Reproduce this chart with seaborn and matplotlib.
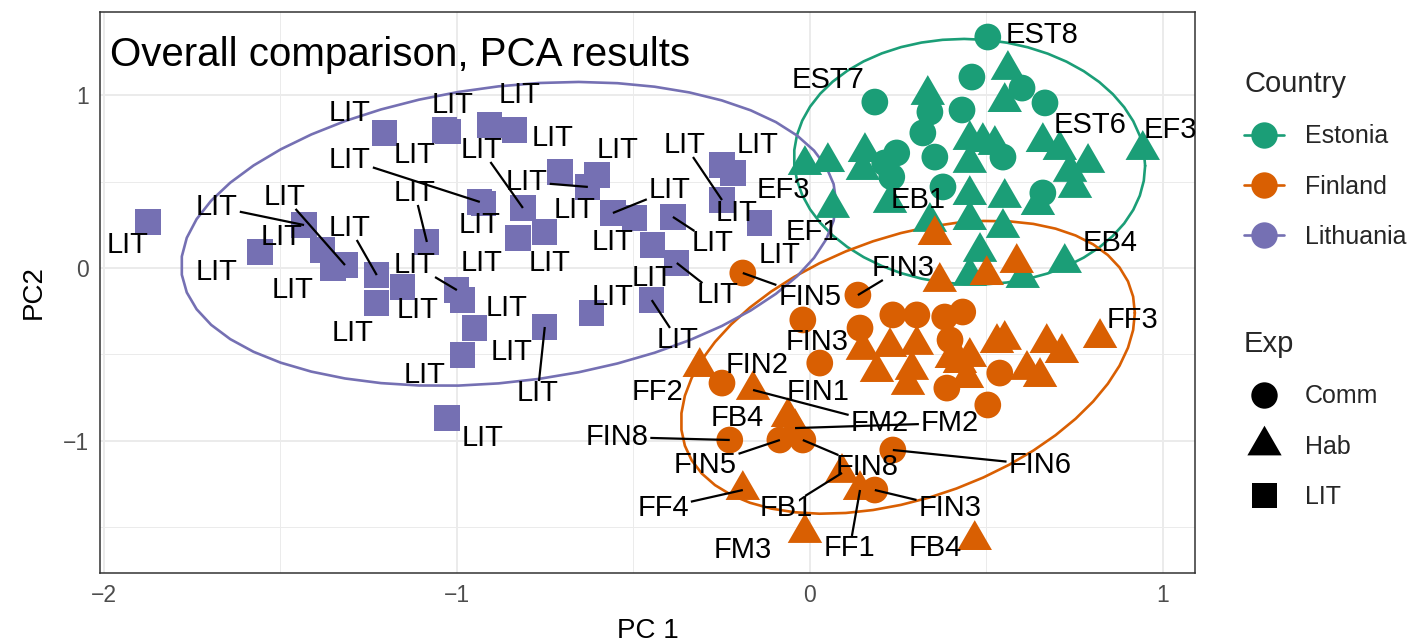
import numpy as np
import pandas as pd
import matplotlib
matplotlib.use("Agg")
import matplotlib.pyplot as plt
import seaborn as sns
from matplotlib.lines import Line2D

# ------------------------------------------------------------------ data
countries = ["Estonia", "Finland", "Lithuania"]
exps = ["Comm", "Hab", "LIT"]

lit_pc1 = [-1.875, -1.558, -1.433, -1.380, -1.351, -1.317, -1.227, -1.227, -1.153, -1.204,
           -1.034, -1.085, -1.000, -0.983, -0.949, -0.983, -1.028, -0.907, -0.836, -0.935,
           -0.813, -0.827, -0.751, -0.751, -0.708, -0.603, -0.629, -0.558, -0.496, -0.388,
           -0.445, -0.377, -0.249, -0.218, -0.249, -0.142, -0.618, -0.448, -1.025, -0.925]
lit_pc2 = [0.267, 0.093, 0.249, 0.104, 0.000, 0.017, -0.041, -0.203, -0.110, 0.783,
           0.800, 0.151, -0.128, -0.186, -0.348, -0.504, -0.870, 0.829, 0.800, 0.383,
           0.348, 0.174, 0.209, -0.342, 0.557, 0.539, 0.470, 0.319, 0.290, 0.296,
           0.133, 0.029, 0.597, 0.551, 0.394, 0.261, -0.261, -0.186, 0.790, 0.375]

est_comm_pc1 = [0.504, 0.459, 0.601, 0.666, 0.184, 0.431, 0.340, 0.320, 0.246, 0.212,
                0.232, 0.354, 0.547, 0.377, 0.660]
est_comm_pc2 = [1.339, 1.107, 1.043, 0.957, 0.962, 0.916, 0.904, 0.783, 0.667, 0.609,
                0.528, 0.643, 0.643, 0.470, 0.435]

est_hab_pc1 = [0.561, 0.334, 0.552, 0.453, 0.490, 0.524, 0.453, 0.660, 0.708, 0.788,
               0.737, 0.751, 0.943, 0.156, 0.150, -0.014, 0.051, 0.065, 0.227, 0.453,
               0.552, 0.646, 0.340, 0.453, 0.547, 0.482, 0.453, 0.603, 0.722]
est_hab_pc2 = [1.148, 1.003, 0.962, 0.742, 0.730, 0.713, 0.609, 0.730, 0.684, 0.609,
               0.557, 0.464, 0.684, 0.672, 0.568, 0.597, 0.614, 0.348, 0.377, 0.423,
               0.406, 0.365, 0.267, 0.278, 0.232, 0.093, -0.046, -0.058, 0.029]

fin_comm_pc1 = [-0.190, 0.136, -0.020, 0.028, -0.249, -0.227, -0.085, -0.020, 0.235, 0.184,
                0.142, 0.235, 0.303, 0.382, 0.433, 0.397, 0.388, 0.538, 0.504]
fin_comm_pc2 = [-0.029, -0.157, -0.301, -0.551, -0.667, -0.997, -0.997, -0.997, -1.055, -1.287,
                -0.348, -0.272, -0.272, -0.284, -0.255, -0.417, -0.696, -0.609, -0.794]

fin_hab_pc1 = [-0.312, -0.161, -0.062, -0.042, -0.190, 0.091, 0.142, -0.014, 0.467, 0.822,
               0.354, 0.368, 0.501, 0.586, 0.150, 0.227, 0.303, 0.190, 0.278, 0.402,
               0.453, 0.530, 0.552, 0.671, 0.714, 0.615, 0.652, 0.445, 0.289, 0.425]
fin_hab_pc2 = [-0.574, -0.707, -0.864, -0.928, -1.287, -1.188, -1.287, -1.536, -1.577, -0.406,
               0.191, -0.081, -0.041, 0.029, -0.475, -0.458, -0.446, -0.603, -0.678, -0.522,
               -0.516, -0.435, -0.417, -0.435, -0.493, -0.591, -0.632, -0.638, -0.591, -0.551]

# point labels: index -> text
est_comm_labels = {0: "EST8", 3: "EST6", 4: "EST7"}
est_hab_labels = {12: "EF3", 15: "EF3", 17: "EF1", 22: "EB1", 28: "EB4"}
fin_comm_labels = {0: "FIN5", 1: "FIN3", 2: "FIN3", 3: "FIN1", 4: "FIN2", 5: "FIN8",
                   6: "FIN5", 7: "FIN8", 8: "FIN6", 9: "FIN3"}
fin_hab_labels = {0: "FF2", 1: "FM2", 2: "FB4", 3: "FM2", 4: "FF4", 5: "FB1", 6: "FF1",
                  7: "FM3", 8: "FB4", 9: "FF3"}

# ---------------------------------------------------- label layout (repel result)
lit_label_layout = [(-1.932, 0.133, 0), (-1.680, -0.023, 0), (-1.680, 0.354, 1), (-1.496, 0.180, 0),
                    (-1.465, -0.128, 0), (-1.487, 0.412, 1), (-1.303, 0.232, 1), (-1.295, -0.377, 0),
                    (-1.110, -0.243, 0), (-1.303, 0.899, 0), (-1.011, 0.945, 0), (-1.119, 0.435, 1),
                    (-1.119, 0.017, 1), (-0.858, -0.232, 0), (-0.844, -0.487, 0), (-1.091, -0.620, 0),
                    (-0.926, -0.986, 0), (-0.822, 1.003, 0), (-0.728, 0.754, 0), (-1.303, 0.626, 1),
                    (-0.929, 0.684, 1), (-0.929, 0.029, 0), (-0.737, 0.029, 0), (-0.771, -0.725, 1),
                    (-0.666, 0.336, 0), (-0.544, 0.684, 0), (-0.802, 0.499, 1), (-0.397, 0.452, 1),
                    (-0.558, 0.151, 0), (-0.275, 0.145, 1), (-0.445, -0.058, 0), (-0.261, -0.157, 1),
                    (-0.147, 0.713, 0), (-0.207, 0.319, 0), (-0.354, 0.713, 1), (-0.085, 0.075, 0),
                    (-0.558, -0.168, 0), (-0.374, -0.417, 1), (-1.119, 0.655, 0), (-0.935, 0.249, 0)]
est_comm_layout = {0: (0.657, 1.351, 0), 3: (0.793, 0.829, 0), 4: (0.051, 1.090, 0)}
est_hab_layout = {12: (1.020, 0.800, 0), 15: (-0.076, 0.452, 0), 17: (0.006, 0.209, 0),
                  22: (0.306, 0.394, 0), 28: (0.850, 0.145, 0)}
fin_comm_layout = {0: (0.000, -0.168, 1), 1: (0.263, 0.000, 1), 2: (0.020, -0.429, 0),
                   3: (0.023, -0.719, 0), 4: (-0.150, -0.562, 0), 5: (-0.547, -0.980, 1),
                   6: (-0.297, -1.142, 1), 7: (0.161, -1.154, 1), 8: (0.652, -1.142, 1),
                   9: (0.397, -1.391, 1)}
fin_hab_layout = {0: (-0.431, -0.719, 0), 1: (0.198, -0.899, 1), 2: (-0.207, -0.870, 0),
                  3: (0.397, -0.899, 1), 4: (-0.416, -1.391, 1), 5: (-0.068, -1.391, 1),
                  6: (0.113, -1.623, 1), 7: (-0.190, -1.635, 0), 8: (0.354, -1.623, 0),
                  9: (0.915, -0.301, 0)}

# ------------------------------------------------------------ data frame
frames = []
def add(px, py, country, exp):
    frames.append(pd.DataFrame({"PC1": px, "PC2": py, "Country": country, "Exp": exp}))
add(est_comm_pc1, est_comm_pc2, "Estonia", "Comm")
add(est_hab_pc1, est_hab_pc2, "Estonia", "Hab")
add(fin_comm_pc1, fin_comm_pc2, "Finland", "Comm")
add(fin_hab_pc1, fin_hab_pc2, "Finland", "Hab")
add(lit_pc1, lit_pc2, "Lithuania", "LIT")
df = pd.concat(frames, ignore_index=True)

palette = {"Estonia": "#1B9E77", "Finland": "#D95F02", "Lithuania": "#7570B3"}
tri = [(0.0, 1.0), (-0.866, -0.5), (0.866, -0.5), (0.0, 1.0)]
marker_map = {"Comm": ("o", 370), "Hab": (tri, 820), "LIT": ("s", 330)}

# --------------------------------------------------------------- figure
sns.set_style("white")
plt.rcParams["font.family"] = ["Liberation Sans", "DejaVu Sans"]

fig = plt.figure(figsize=(14.15, 6.43), dpi=100)
ax = fig.add_axes([100 / 1415, 1 - 573 / 643, 1095 / 1415, 561 / 643])

ax.set_xlim(-2.011, 1.091)
ax.set_ylim(-1.768, 1.484)
ax.set_xticks([-2, -1, 0, 1])
ax.set_yticks([-1, 0, 1])
ax.set_xticks([-1.5, -0.5, 0.5], minor=True)
ax.set_yticks([-1.5, -0.5, 0.5], minor=True)
ax.grid(which="major", color="#EBEBEB", lw=1.4, zorder=0)
ax.grid(which="minor", color="#EBEBEB", lw=0.7, zorder=0)
ax.set_axisbelow(True)
for s in ax.spines.values():
    s.set_color("#333333")
    s.set_linewidth(1.1)
ax.tick_params(which="major", direction="out", length=4, width=1.0, color="#333333",
               labelsize=16.5, labelcolor="#4D4D4D", pad=4)
ax.tick_params(which="minor", length=0)


# ------------------------------------------------ ellipses (stat_ellipse, type t)
def cov_trob(x, nu=5, maxit=25, tol=0.01):
    n, p = x.shape
    loc = x.mean(0)
    w = np.ones(n)
    for _ in range(maxit):
        w0 = w
        X = x - loc
        sw = np.sqrt(w / w.sum())
        _, d, vt = np.linalg.svd(sw[:, None] * X, full_matrices=False)
        wX = X @ vt.T @ np.diag(1.0 / d)
        Q = (wX ** 2).sum(1)
        w = (nu + p) / (nu + Q)
        loc = (w[:, None] * x).sum(0) / w.sum()
        if np.all(np.abs(w - w0) < tol):
            break
    cov = (np.sqrt(w)[:, None] * X).T @ (np.sqrt(w)[:, None] * X) / n
    return loc, cov


for c in countries:
    pts = df.loc[df.Country == c, ["PC1", "PC2"]].to_numpy()
    center, shape = cov_trob(pts)
    dfd = len(pts) - 1
    qf = dfd / 2.0 * (0.05 ** (-2.0 / dfd) - 1.0)
    radius = np.sqrt(2 * qf)
    ang = np.linspace(0, 2 * np.pi, 52)
    circ = np.column_stack([np.cos(ang), np.sin(ang)])
    L = np.linalg.cholesky(shape)
    ell = center + radius * (circ @ L.T)
    ax.plot(ell[:, 0], ell[:, 1], color=palette[c], lw=1.9, zorder=2)

# --------------------------------------------------------------- points
for e in exps:
    sub = df[df.Exp == e]
    mk, sz = marker_map[e]
    sns.scatterplot(data=sub, x="PC1", y="PC2", hue="Country", palette=palette,
                    marker=mk, s=sz, linewidth=0, legend=False, ax=ax, zorder=3)

ax.set_xlabel("PC 1", fontsize=20, color="black", labelpad=7.5)
ax.set_ylabel("PC2", fontsize=20, color="black", labelpad=11.5)

ax.text(-1.983, 1.235, "Overall comparison, PCA results", fontsize=29, ha="left",
        va="center", color="black", zorder=6)

# --------------------------------------------------------------- labels
label_items = []  # (text, point_x, point_y, label_x, label_y, seg)
for i, (lx, ly, sg) in enumerate(lit_label_layout):
    label_items.append(("LIT", lit_pc1[i], lit_pc2[i], lx, ly, sg))
for labs, lay, px, py in [(est_comm_labels, est_comm_layout, est_comm_pc1, est_comm_pc2),
                          (est_hab_labels, est_hab_layout, est_hab_pc1, est_hab_pc2),
                          (fin_comm_labels, fin_comm_layout, fin_comm_pc1, fin_comm_pc2),
                          (fin_hab_labels, fin_hab_layout, fin_hab_pc1, fin_hab_pc2)]:
    for i, t in labs.items():
        lx, ly, sg = lay[i]
        label_items.append((t, px[i], py[i], lx, ly, sg))

texts = []
for t, px, py, lx, ly, sg in label_items:
    texts.append(ax.text(lx, ly, t, fontsize=21, ha="center", va="center",
                         color="black", zorder=6))

fig.canvas.draw()
renderer = fig.canvas.get_renderer()
inv = ax.transData.inverted()
for txt, (t, px, py, lx, ly, sg) in zip(texts, label_items):
    if not sg:
        continue
    bb = txt.get_window_extent(renderer)
    pdsp = ax.transData.transform((px, py))
    cx, cy = (bb.x0 + bb.x1) / 2, (bb.y0 + bb.y1) / 2
    dx, dy = pdsp[0] - cx, pdsp[1] - cy
    hw, hh = bb.width / 2 + 2, bb.height / 2 - 2
    sx = hw / abs(dx) if dx != 0 else np.inf
    sy = hh / abs(dy) if dy != 0 else np.inf
    f = min(sx, sy)
    if f >= 1:
        continue
    start = inv.transform((cx + dx * f, cy + dy * f))
    ax.plot([start[0], px], [start[1], py], color="black", lw=1.6, zorder=5,
            solid_capstyle="butt")

# --------------------------------------------------------------- legends
country_handles = [Line2D([0], [0], color=palette[c], lw=1.9, marker="o", markersize=19,
                          markeredgewidth=0) for c in countries]
leg1 = fig.legend(country_handles, countries, title="Country", loc="upper left",
                  bbox_to_anchor=(1244 / 1415, 1 - 70 / 643), frameon=False,
                  fontsize=18, title_fontsize=21, handlelength=1.6, handletextpad=0.85,
                  labelspacing=1.05, borderpad=0, borderaxespad=0, alignment="left")

exp_handles = [Line2D([0], [0], color="black", lw=0, marker="o", markersize=19, markeredgewidth=0),
               Line2D([0], [0], color="black", lw=0, marker=tri, markersize=28.5, markeredgewidth=0),
               Line2D([0], [0], color="black", lw=0, marker="s", markersize=18, markeredgewidth=0)]
leg2 = fig.legend(exp_handles, exps, title="Exp", loc="upper left",
                  bbox_to_anchor=(1244 / 1415, 1 - 330 / 643), frameon=False,
                  fontsize=18, title_fontsize=21, handlelength=1.6, handletextpad=0.85,
                  labelspacing=1.05, borderpad=0, borderaxespad=0, alignment="left")

fig.savefig("out.png", dpi=100, facecolor="white")
